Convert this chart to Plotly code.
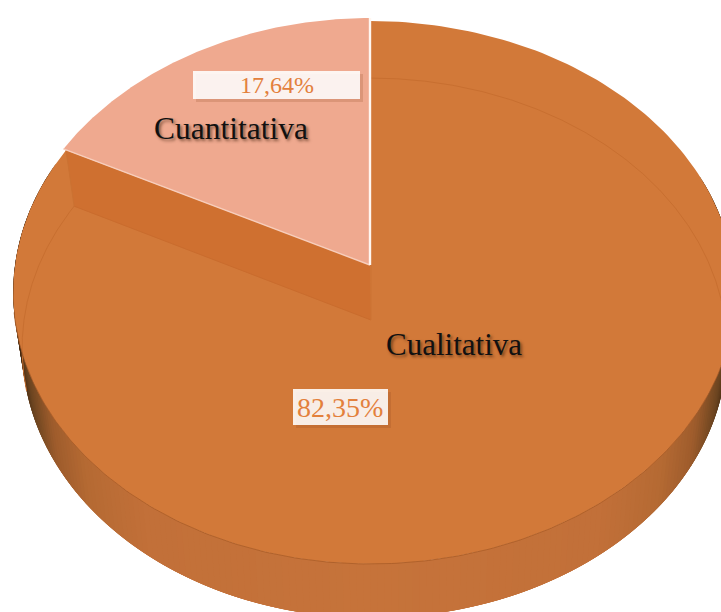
import numpy as np
import plotly.graph_objects as go

# Share of each research approach
categories = ["Cualitativa", "Cuantitativa"]
values = [82.35, 17.64]

TOP_COLOR = "#D27939"
WALL_COLOR = "#CF7030"
SLICE_COLOR = "#EFA98F"
LABEL_COLOR = "#E3803C"
SERIF = "Liberation Serif, Times New Roman, serif"

# Perspective cameras for the disc surfaces: centre x/y, half axes, foreshortening
TOP = dict(cx=370, cy=265, a=268.7, bl=355, br=363, k=0.1013)
FLOOR = dict(cx=371, cy=320, a=267, bl=347, br=354, k=0.1037)
RAISED = dict(cx=370, cy=265, a=272, bl=358, br=358, k=0.1013)

# Rim shading: normalised horizontal position to colour
RIM_POS = [0.0, 0.58, 0.75, 0.85, 0.93, 0.97, 1.0]
RIM_R = [198, 194, 181, 158, 107, 74, 60]
RIM_G = [115, 112, 106, 92, 68, 46, 36]
RIM_B = [58, 57, 51, 44, 32, 20, 16]


def project(theta, cam):
    """Project a unit-disc point, angle clockwise from twelve o'clock."""
    u, v = np.sin(theta), np.cos(theta)
    w = 1 + cam["k"] * v
    b = np.where(u >= 0, cam["br"], cam["bl"])
    return cam["cx"] + b * u / w, cam["cy"] - cam["a"] * v / w


def arc(start, stop, cam, n=240):
    return project(np.linspace(start, stop, n), cam)


def poly(fig, x, y, fill):
    fig.add_trace(go.Scatter(
        x=list(x), y=list(y), mode="lines", fill="toself", fillcolor=fill,
        line=dict(width=0), hoverinfo="skip", showlegend=False,
    ))


def stroke(fig, x, y, color, width=1.0):
    fig.add_trace(go.Scatter(
        x=list(x), y=list(y), mode="lines", line=dict(color=color, width=width),
        hoverinfo="skip", showlegend=False,
    ))


total = sum(values)
small_sweep = 2 * np.pi * values[1] / total
cut = 2 * np.pi - small_sweep

fig = go.Figure()

# Outer rim, one shaded strip per step around the front of the disc;
# every strip runs on under the next one so no seam shows between them
steps = np.linspace(np.radians(70), np.radians(290), 221)
span = steps[4] - steps[0]
for t0 in steps[:-1]:
    t1 = t0 + span
    xt, yt = arc(t0, t1, TOP, 5)
    xb, yb = arc(t1, t0, FLOOR, 5)
    s = abs(np.sin(t0 + (steps[1] - steps[0]) / 2))
    col = "rgb({:.0f},{:.0f},{:.0f})".format(
        np.interp(s, RIM_POS, RIM_R), np.interp(s, RIM_POS, RIM_G), np.interp(s, RIM_POS, RIM_B))
    poly(fig, np.r_[xt, xb], np.r_[yt, yb], col)

# Large slice top surface
xa, ya = arc(0, cut, TOP)
ax, ay = TOP["cx"], TOP["cy"]
poly(fig, np.r_[xa, ax], np.r_[ya, ay], TOP_COLOR)

# Floor rim showing faintly through the surface
stroke(fig, *arc(0, np.radians(100), FLOOR), "#C86F30", 1)
stroke(fig, *arc(np.radians(255), cut, FLOOR), "#C86F30", 1)

# Inner wall exposed along the cut between the slices
fx, fy = project(np.array([cut]), FLOOR)
tx, ty = project(np.array([cut]), TOP)
poly(fig, [tx[0], ax, FLOOR["cx"], fx[0]], [ty[0], ay, FLOOR["cy"], fy[0]], WALL_COLOR)
stroke(fig, [FLOOR["cx"], fx[0]], [FLOOR["cy"], fy[0]], "#C96C2E", 1)
stroke(fig, [tx[0], fx[0]], [ty[0], fy[0]], "#CB7232", 1)
stroke(fig, [FLOOR["cx"], FLOOR["cx"]], [ay, FLOOR["cy"]], "#CB7434", 1)

# Small slice, raised above the surface
xs, ys = arc(cut, 2 * np.pi, RAISED)
poly(fig, np.r_[xs, RAISED["cx"]], np.r_[ys, RAISED["cy"]], SLICE_COLOR)
stroke(fig, [xs[0], RAISED["cx"]], [ys[0], RAISED["cy"]], "#F7CDBB", 1.4)
stroke(fig, [RAISED["cx"], RAISED["cx"]], [RAISED["cy"], ys[-1]], "#FFF6F0", 2.4)

# Rim hairline along the front of the surface
stroke(fig, *arc(np.radians(100), np.radians(260), TOP), "#A85C27", 0.8)

shapes = []
labels = []
boxes = [(293, 389, 388, 425), (193, 71, 360, 99)]
positions = [(340, 407), (277, 85)]
sizes = [28, 24]
for (x0, y0, x1, y1), (px, py), size, val in zip(boxes, positions, sizes, values):
    shapes.append(dict(type="rect", xref="x", yref="y", x0=x0 + 3, x1=x1 + 3, y0=y0 + 3, y1=y1 + 3,
                       fillcolor="rgba(140,70,30,0.20)", line_width=0, layer="above"))
    shapes.append(dict(type="rect", xref="x", yref="y", x0=x0, x1=x1, y0=y0, y1=y1,
                       fillcolor="rgba(255,255,255,0.88)", line_width=0, layer="above"))
    labels.append(dict(x=px, y=py, xref="x", yref="y", showarrow=False,
                       text=f"{val:.2f}%".replace(".", ","),
                       font=dict(family=SERIF, size=size, color=LABEL_COLOR)))

names_at = [(454, 344, 31), (231, 128, 31.5)]
for name, (px, py, size) in zip(categories, names_at):
    labels.append(dict(x=px, y=py, xref="x", yref="y", showarrow=False, text=name,
                       font=dict(family=SERIF, size=size, color="#111111",
                                 shadow="2px 2px 3px rgba(60,30,10,0.6)")))

fig.update_layout(
    width=721, height=612, margin=dict(l=0, r=0, t=0, b=0),
    paper_bgcolor="white", plot_bgcolor="white", showlegend=False,
    xaxis=dict(range=[0, 721], visible=False, fixedrange=True),
    yaxis=dict(range=[612, 0], visible=False, fixedrange=True),
    shapes=shapes, annotations=labels,
)

fig.write_html("out.html")
